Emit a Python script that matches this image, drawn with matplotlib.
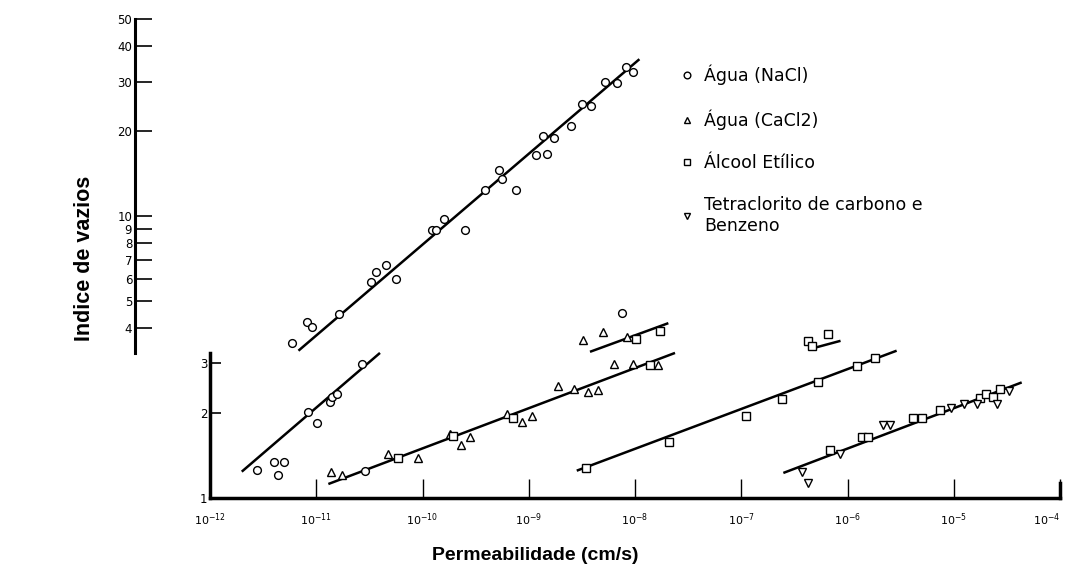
import matplotlib.pyplot as plt
from matplotlib.lines import Line2D
from matplotlib.ticker import NullLocator

# permeability (cm/s) and void ratio
nacl_k = [5.9e-12, 8.2e-12, 9.1e-12, 1.64e-11, 3.25e-11, 3.65e-11, 4.5e-11, 5.6e-11,
          1.24e-10, 1.33e-10, 1.59e-10, 2.5e-10, 3.9e-10, 5.2e-10, 5.6e-10, 7.6e-10,
          1.16e-9, 1.35e-9, 1.48e-9, 1.73e-9, 2.5e-9, 3.15e-9, 3.85e-9, 5.2e-9,
          6.7e-9, 8.2e-9, 9.6e-9,
          2.79e-12, 4.03e-12, 5.0e-12, 4.4e-12, 8.4e-12, 1.01e-11, 1.35e-11, 1.40e-11,
          1.56e-11, 2.68e-11, 2.88e-11, 7.5e-9]
nacl_e = [3.56, 4.22, 4.03, 4.49, 5.85, 6.35, 6.7, 6.0,
          8.9, 8.9, 9.8, 8.9, 12.4, 14.6, 13.5, 12.4,
          16.4, 19.2, 16.6, 18.9, 20.8, 24.9, 24.6, 29.8,
          29.6, 33.7, 32.5,
          1.257, 1.339, 1.345, 1.207, 2.02, 1.845, 2.195, 2.275,
          2.34, 2.99, 1.25, 4.53]

cacl_k = [1.38e-11, 1.76e-11, 4.77e-11, 9.0e-11, 1.82e-10, 2.29e-10, 2.8e-10, 6.28e-10,
          8.7e-10, 1.07e-9, 1.9e-9, 2.67e-9, 3.63e-9, 4.52e-9, 6.38e-9, 9.6e-9,
          1.66e-8, 3.22e-9, 5.03e-9, 8.35e-9]
cacl_e = [1.233, 1.207, 1.432, 1.383, 1.686, 1.541, 1.642, 1.986,
          1.855, 1.949, 2.49, 2.435, 2.38, 2.42, 2.99, 2.99,
          2.96, 3.64, 3.87, 3.71]

alc_k = [5.92e-11, 1.95e-10, 7.06e-10, 1.38e-8, 1.72e-8, 1.02e-8, 3.46e-9, 2.1e-8,
         1.10e-7, 2.4e-7, 5.31e-7, 1.24e-6, 1.81e-6, 4.28e-7, 4.6e-7, 6.6e-7,
         6.84e-7, 1.36e-6, 1.57e-6, 4.11e-6, 4.99e-6, 7.43e-6, 1.77e-5, 2.01e-5,
         2.36e-5, 2.72e-5]
alc_e = [1.383, 1.663, 1.918, 2.96, 3.92, 3.66, 1.274, 1.576,
         1.949, 2.24, 2.57, 2.93, 3.13, 3.61, 3.47, 3.82,
         1.48, 1.642, 1.642, 1.918, 1.918, 2.056, 2.26, 2.34,
         2.29, 2.435]

ccl4_k = [3.71e-7, 4.28e-7, 8.5e-7, 2.17e-6, 2.51e-6, 9.4e-6, 1.26e-5, 1.67e-5,
          2.54e-5, 3.33e-5]
ccl4_e = [1.233, 1.13, 1.432, 1.815, 1.815, 2.08, 2.154, 2.154,
          2.154, 2.40]

# fitted lines, start / end
line_k = [(6.8e-12, 1.1e-8), (1.99e-12, 3.98e-11), (1.30e-11, 2.38e-8), (3.77e-9, 2.06e-8),
          (2.83e-9, 2.9e-6), (4.76e-7, 8.6e-7), (2.49e-7, 4.36e-5)]
line_e = [(3.33, 36.0), (1.24, 3.27), (1.121, 3.27), (3.30, 4.17),
          (1.25, 3.33), (3.40, 3.61), (1.227, 2.57)]

x_ticks = [1e-12, 1e-11, 1e-10, 1e-9, 1e-8, 1e-7, 1e-6, 1e-5, 1e-4]
x_labels = ['$10^{-12}$', '$10^{-11}$', '$10^{-10}$', '$10^{-9}$', '$10^{-8}$',
            '$10^{-7}$', '$10^{-6}$', '$10^{-5}$', '$10^{-4}$']
upper_ticks = [4, 5, 6, 7, 8, 9, 10, 20, 30, 40, 50]
lower_ticks = [1, 2, 3]

labels = ['Água (NaCl)', 'Água (CaCl2)', 'Álcool Etílico', 'Tetraclorito de carbono e\nBenzeno']
markers = ['o', '^', 's', 'v']

W, H = 1068, 574
fig = plt.figure(figsize=(W / 100, H / 100), dpi=100)
ax = fig.add_axes([210 / W, 76 / H, 850 / W, 480 / H])
ax.patch.set_alpha(0)
ax.set_xscale('log')
ax.set_yscale('log')
ax.set_xlim(1e-12, 1e-4)
ax.set_ylim(1, 50.4)

for (k0, k1), (e0, e1) in zip(line_k, line_e):
    ax.plot([k0, k1], [e0, e1], color='black', lw=1.8, solid_capstyle='butt')

series = [(nacl_k, nacl_e), (cacl_k, cacl_e), (alc_k, alc_e), (ccl4_k, ccl4_e)]
for (k, e), m in zip(series, markers):
    ax.plot(k, e, m, ms=5.6, mfc='white', mec='black', mew=1.0, linestyle='none', zorder=3)

ax.spines['top'].set_visible(False)
ax.spines['left'].set_bounds(1, 3.27)
ax.spines['right'].set_bounds(1, 1.13)
for s in ['left', 'bottom', 'right']:
    ax.spines[s].set_linewidth(2.5)

ax.xaxis.set_minor_locator(NullLocator())
ax.yaxis.set_minor_locator(NullLocator())
ax.set_xticks(x_ticks)
ax.set_xticklabels(x_labels)
ax.get_xticklabels()[-1].set_horizontalalignment('right')
ax.set_yticks(lower_ticks)
ax.set_yticklabels([str(t) for t in lower_ticks])
ax.tick_params(axis='x', direction='in', length=14, width=1, labelsize=8, pad=10)
ax.tick_params(axis='y', direction='in', length=8, width=1.2, labelsize=8.5, pad=2)
ax.tick_params(axis='y', which='both', right=False)

# upper part of the void-ratio scale, drawn further left
ax_up = fig.add_axes([135 / W, 76 / H, 1 / W, 480 / H])
ax_up.patch.set_alpha(0)
ax_up.set_yscale('log')
ax_up.set_ylim(1, 50.4)
for s in ['top', 'right', 'bottom']:
    ax_up.spines[s].set_visible(False)
ax_up.spines['left'].set_bounds(3.27, 50)
ax_up.spines['left'].set_linewidth(2.2)
ax_up.set_xticks([])
ax_up.yaxis.set_minor_locator(NullLocator())
ax_up.set_yticks(upper_ticks)
ax_up.set_yticklabels([str(t) for t in upper_ticks])
ax_up.tick_params(axis='y', direction='in', length=12, width=1.2, labelsize=8.5, pad=2)

fig.text(535 / W, 1 - 555 / H, 'Permeabilidade (cm/s)', ha='center', va='center',
         fontsize=14, fontweight='bold', family='Liberation Sans')
fig.text(84 / W, 1 - 258 / H, 'Indice de vazios', ha='center', va='center', rotation=90,
         fontsize=15.5, fontweight='bold', family='Liberation Sans')

handles = [Line2D([], [], marker=m, ls='none', ms=4.8, mfc='white', mec='black', mew=1.0)
           for m in markers]
fig.legend(handles, labels, loc='upper left', bbox_to_anchor=(673 / W, 1 - 58 / H),
           frameon=False, fontsize=12.5, labelspacing=1.38, handlelength=0.8,
           handletextpad=0.6, borderaxespad=0)

fig.savefig('out.png', dpi=100)
